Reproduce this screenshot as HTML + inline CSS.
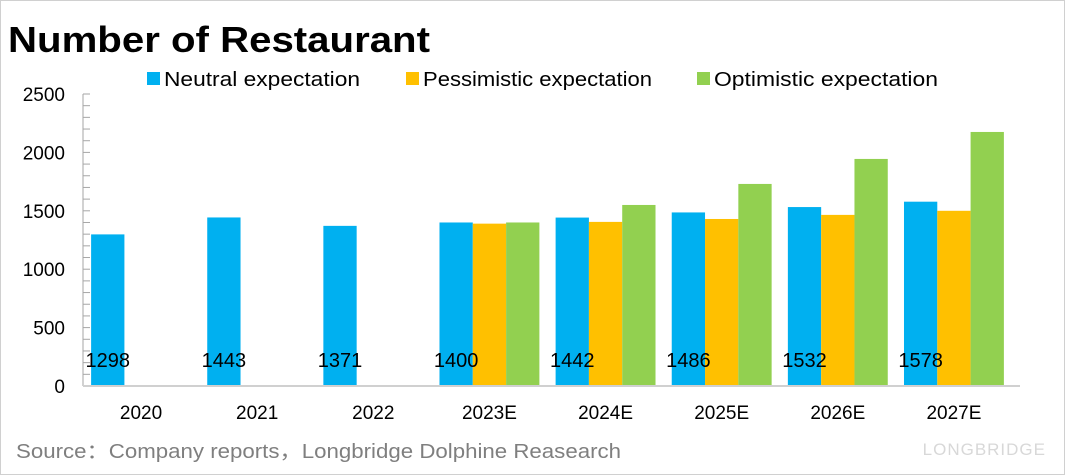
<!DOCTYPE html>
<html><head><meta charset="utf-8"><style>
body{margin:0;background:#fff}
svg{display:block;font-family:"Liberation Sans","Noto Sans CJK SC",sans-serif}
</style></head><body>
<svg width="1065" height="475" viewBox="0 0 1065 475">
<rect x="0.5" y="0.5" width="1064" height="474" fill="#fff" stroke="#d0d0d0"/>
<text x="8" y="52" font-size="36" font-weight="bold" textLength="422" lengthAdjust="spacingAndGlyphs">Number of Restaurant</text>
<g>
<rect x="147" y="72" width="13" height="13" fill="#00B0F0"/>
<text x="164" y="86" font-size="20" textLength="196" lengthAdjust="spacingAndGlyphs">Neutral expectation</text>
<rect x="406" y="72" width="13" height="13" fill="#FFC000"/>
<text x="423" y="86" font-size="20" textLength="229" lengthAdjust="spacingAndGlyphs">Pessimistic expectation</text>
<rect x="697" y="72" width="13" height="13" fill="#92D050"/>
<text x="714" y="86" font-size="20" textLength="224" lengthAdjust="spacingAndGlyphs">Optimistic expectation</text>
</g>
<g id="plot"></g>
<text x="16" y="458" font-size="20" fill="#7f7f7f" textLength="605" lengthAdjust="spacingAndGlyphs">Source：Company reports，Longbridge Dolphine Reasearch</text>
<text x="1046" y="455" font-size="17" fill="#d8d8d8" text-anchor="end" letter-spacing="1">LONGBRIDGE</text>
</svg>
<script>
const categories=["2020","2021","2022","2023E","2024E","2025E","2026E","2027E"];
const neutral=[1298,1443,1371,1400,1442,1486,1532,1578];
const pessimistic=[null,null,null,1390,1405,1430,1465,1500];
const optimistic=[null,null,null,1400,1550,1730,1944,2175];
const yTicks=[0,500,1000,1500,2000,2500];
const X0=83,X1=1012,Y0=386,Y1=94,YMAX=2500;
const band=(X1-X0)/categories.length;
const bw=33.3;
function y(v){return Y0-(v/YMAX)*(Y0-Y1);}
function bx(i,s){return X0+i*band+(band-3*bw)/2+s*bw;}
const g=document.getElementById('plot');
const NS="http://www.w3.org/2000/svg";
function el(t,a){const e=document.createElementNS(NS,t);for(const k in a)e.setAttribute(k,a[k]);g.appendChild(e);return e;}
let ax=el('line',{x1:X0,y1:Y1,x2:X0,y2:Y0,stroke:'#a6a6a6','stroke-width':1});


for(let v=0;v<=YMAX;v+=100){
 const t=el('line',{x1:X0,y1:y(v),x2:X0+7,y2:y(v),stroke:'#a6a6a6','stroke-width':1});
 
 
}
yTicks.forEach(v=>{
 const t=el('text',{x:65,y:y(v)+7,'font-size':19,'text-anchor':'end'});
 t.textContent=v;
 
 
});
const series=[[neutral,'#00B0F0','neutral'],[pessimistic,'#FFC000','pessimistic'],[optimistic,'#92D050','optimistic']];
series.forEach(([arr,col,nm],s)=>{
 arr.forEach((v,i)=>{
  if(v==null)return;
  const r=el('rect',{x:bx(i,s),y:y(v),width:bw,height:Y0-y(v),fill:col});
  
  
 });
});
const xa=el('line',{x1:X0,y1:Y0,x2:X1+8,y2:Y0,stroke:'#d0d0d0','stroke-width':2});


categories.forEach((c,i)=>{
 const t=el('text',{x:X0+(i+0.5)*band,y:419,'font-size':19,'text-anchor':'middle'});
 t.textContent=c;
 
 
 const l=el('text',{x:bx(i,0)+bw/2,y:367,'font-size':20,'text-anchor':'middle'});
 l.textContent=neutral[i];
 
 
});
</script>
</body></html>
